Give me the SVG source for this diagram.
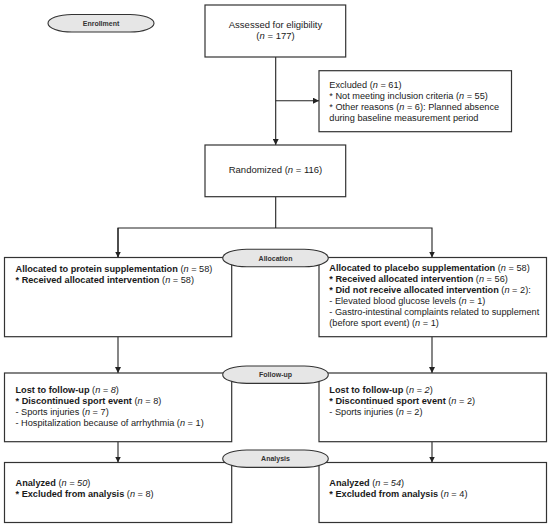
<svg xmlns="http://www.w3.org/2000/svg" width="550" height="528" viewBox="0 0 550 528">
<style>
.box{fill:#fff;stroke:#333;stroke-width:1.2}
.stage{fill:#e6e6e6;stroke:#333;stroke-width:1.1}
.conn{fill:none;stroke:#222;stroke-width:1.1}
text{font-family:"Liberation Sans",Arial,sans-serif;fill:#1a1a1a}
.t{font-size:9.2px}
.c{font-size:9.5px;text-anchor:middle}
.s{font-size:7px;font-weight:bold;text-anchor:middle;fill:#333}
.b{font-weight:bold}
.i{font-style:italic}
</style>
<defs>
<marker id="ah" viewBox="0 0 10 10" refX="10" refY="5" markerWidth="6" markerHeight="6" markerUnits="userSpaceOnUse" orient="auto">
<path d="M0,0 L10,5 L0,10 z" fill="#222"/>
</marker>
</defs>
<rect width="550" height="528" fill="#fff"/>
<g id="connectors">
<line class="conn" x1="275.7" y1="57" x2="275.7" y2="145" marker-end="url(#ah)"/>
<line class="conn" x1="275.7" y1="100.7" x2="319" y2="100.7" marker-end="url(#ah)"/>
<polyline class="conn" points="275.7,196.7 275.7,228"/>
<polyline class="conn" points="118,257.5 118,228 432,228 432,257.5" marker-end="url(#ah)"/>
<line class="conn" x1="118" y1="228" x2="118" y2="257.5" marker-end="url(#ah)"/>
<line class="conn" x1="118" y1="336.7" x2="118" y2="373" marker-end="url(#ah)"/>
<line class="conn" x1="432" y1="336.7" x2="432" y2="373" marker-end="url(#ah)"/>
<line class="conn" x1="118" y1="441.7" x2="118" y2="462.5" marker-end="url(#ah)"/>
<line class="conn" x1="432" y1="441.7" x2="432" y2="462.5" marker-end="url(#ah)"/>
</g>
<g id="enrollment">
<rect class="stage" x="48" y="14.5" width="106" height="17.5" rx="24" ry="8.75"/>
<text class="s" x="101" y="25.8">Enrollment</text>
</g>
<g id="assessed">
<rect class="box" x="205" y="5" width="140.7" height="52"/>
<text class="c" x="275.5" y="27.7">Assessed for eligibility</text>
<text class="c" x="275.5" y="39.2">(<tspan class="i">n</tspan> = 177)</text>
</g>
<g id="excluded">
<rect class="box" x="319" y="70.7" width="192.5" height="61"/>
<text class="t" x="329.3" y="87.5">Excluded (<tspan class="i">n</tspan> = 61)</text>
<text class="t" x="329.3" y="98.6">* Not meeting inclusion criteria (<tspan class="i">n</tspan> = 55)</text>
<text class="t" x="329.3" y="109.7">* Other reasons (<tspan class="i">n</tspan> = 6): Planned absence</text>
<text class="t" x="329.3" y="120.8">during baseline measurement period</text>
</g>
<g id="randomized">
<rect class="box" x="205" y="145" width="140.7" height="51.7"/>
<text class="c" x="275.5" y="173.4">Randomized (<tspan class="i">n</tspan> = 116)</text>
</g>
<g id="alloc-protein">
<rect class="box" x="4.5" y="257.5" width="227.2" height="79.2"/>
<text class="t" x="15.5" y="271.6"><tspan class="b">Allocated to protein supplementation</tspan> (<tspan class="i">n</tspan> = 58)</text>
<text class="t" x="15.5" y="282.7"><tspan class="b">* Received allocated intervention</tspan> (<tspan class="i">n</tspan> = 58)</text>
</g>
<g id="alloc-placebo">
<rect class="box" x="319" y="257.5" width="227.5" height="79.2"/>
<text class="t" x="329.3" y="271.3"><tspan class="b">Allocated to placebo supplementation</tspan> (<tspan class="i">n</tspan> = 58)</text>
<text class="t" x="329.3" y="282.3"><tspan class="b">* Received allocated intervention</tspan> (<tspan class="i">n</tspan> = 56)</text>
<text class="t" x="329.3" y="293.3"><tspan class="b">* Did not receive allocated intervention</tspan> (<tspan class="i">n</tspan> = 2):</text>
<text class="t" x="329.3" y="304.3">- Elevated blood glucose levels (<tspan class="i">n</tspan> = 1)</text>
<text class="t" x="329.3" y="315.3">- Gastro-intestinal complaints related to supplement</text>
<text class="t" x="329.3" y="326.3">(before sport event) (<tspan class="i">n</tspan> = 1)</text>
</g>
<g id="allocation">
<rect class="stage" x="222.7" y="249.3" width="105.6" height="17.4" rx="24" ry="8.7"/>
<text class="s" x="275.5" y="260.5">Allocation</text>
</g>
<g id="followup-protein">
<rect class="box" x="4.5" y="373" width="227.2" height="68.7"/>
<text class="t" x="15.5" y="392.6"><tspan class="b">Lost to follow-up</tspan> (<tspan class="i">n = 8</tspan>)</text>
<text class="t" x="15.5" y="403.8"><tspan class="b">* Discontinued sport event</tspan> (<tspan class="i">n</tspan> = 8)</text>
<text class="t" x="15.5" y="415">- Sports injuries (<tspan class="i">n</tspan> = 7)</text>
<text class="t" x="15.5" y="426.2">- Hospitalization because of arrhythmia (<tspan class="i">n</tspan> = 1)</text>
</g>
<g id="followup-placebo">
<rect class="box" x="319" y="373" width="227.5" height="68.7"/>
<text class="t" x="329.3" y="392.6"><tspan class="b">Lost to follow-up</tspan> (<tspan class="i">n = 2</tspan>)</text>
<text class="t" x="329.3" y="403.8"><tspan class="b">* Discontinued sport event</tspan> (<tspan class="i">n</tspan> = 2)</text>
<text class="t" x="329.3" y="415">- Sports injuries (<tspan class="i">n</tspan> = 2)</text>
</g>
<g id="followup">
<rect class="stage" x="222.7" y="366" width="105.6" height="17.4" rx="24" ry="8.7"/>
<text class="s" x="275.5" y="377.2">Follow-up</text>
</g>
<g id="analysis-protein">
<rect class="box" x="4.5" y="462.5" width="227.2" height="60"/>
<text class="t" x="15.5" y="485.6"><tspan class="b">Analyzed</tspan> (<tspan class="i">n = 50</tspan>)</text>
<text class="t" x="15.5" y="496.7"><tspan class="b">* Excluded from analysis</tspan> (<tspan class="i">n</tspan> = 8)</text>
</g>
<g id="analysis-placebo">
<rect class="box" x="319" y="462.5" width="227.5" height="60"/>
<text class="t" x="329.3" y="485.6"><tspan class="b">Analyzed</tspan> (<tspan class="i">n = 54</tspan>)</text>
<text class="t" x="329.3" y="496.7"><tspan class="b">* Excluded from analysis</tspan> (<tspan class="i">n</tspan> = 4)</text>
</g>
<g id="analysis">
<rect class="stage" x="222.7" y="450" width="105.6" height="17.4" rx="24" ry="8.7"/>
<text class="s" x="275.5" y="461.2">Analysis</text>
</g>
</svg>
